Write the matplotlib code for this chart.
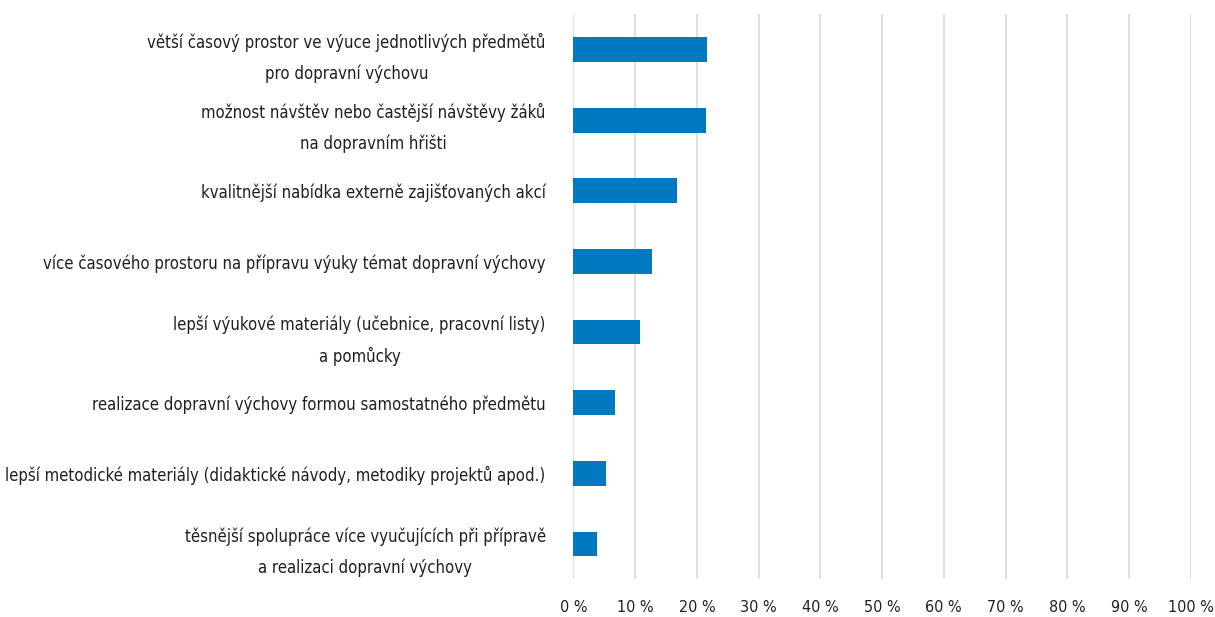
import matplotlib.pyplot as plt
from matplotlib.ticker import FuncFormatter

plt.rcParams['font.family'] = ['DejaVu Sans']
plt.rcParams['font.stretch'] = 'condensed'

labels = [
    'větší časový prostor ve výuce jednotlivých předmětů\npro dopravní výchovu',
    'možnost návštěv nebo častější návštěvy žáků\nna dopravním hřišti',
    'kvalitnější nabídka externě zajišťovaných akcí',
    'více časového prostoru na přípravu výuky témat dopravní výchovy',
    'lepší výukové materiály (učebnice, pracovní listy)\na pomůcky',
    'realizace dopravní výchovy formou samostatného předmětu',
    'lepší metodické materiály (didaktické návody, metodiky projektů apod.)',
    'těsnější spolupráce více vyučujících při přípravě\na realizaci dopravní výchovy',
]
values = [21.7, 21.4, 16.7, 12.8, 10.8, 6.8, 5.2, 3.8]
xticks = list(range(0, 101, 10))

fig = plt.figure(figsize=(12.15, 6.17), dpi=100)
ax = fig.add_axes([0.472, 0.061, 0.508, 0.916])

pos = list(range(len(labels)))
ax.barh(pos, values, height=0.35, color='#0079c1', zorder=3)
ax.set_ylim(len(labels) - 0.5, -0.5)
ax.set_xlim(0, 100)

ax.set_yticks(pos)
ax.set_yticklabels(labels, fontsize=12, color='#231f20',
                   multialignment='center', linespacing=1.85)
ax.set_xticks(xticks)
ax.xaxis.set_major_formatter(FuncFormatter(lambda v, p: '%d %%' % v))
ax.tick_params(axis='x', length=0, pad=15, labelsize=11.5, labelcolor='#231f20')
ax.tick_params(axis='y', length=0, pad=20)

ax.grid(axis='x', color='#d9d9d9', linewidth=1.2, zorder=0)
for s in ax.spines.values():
    s.set_visible(False)

fig.savefig('out.png', dpi=100)
